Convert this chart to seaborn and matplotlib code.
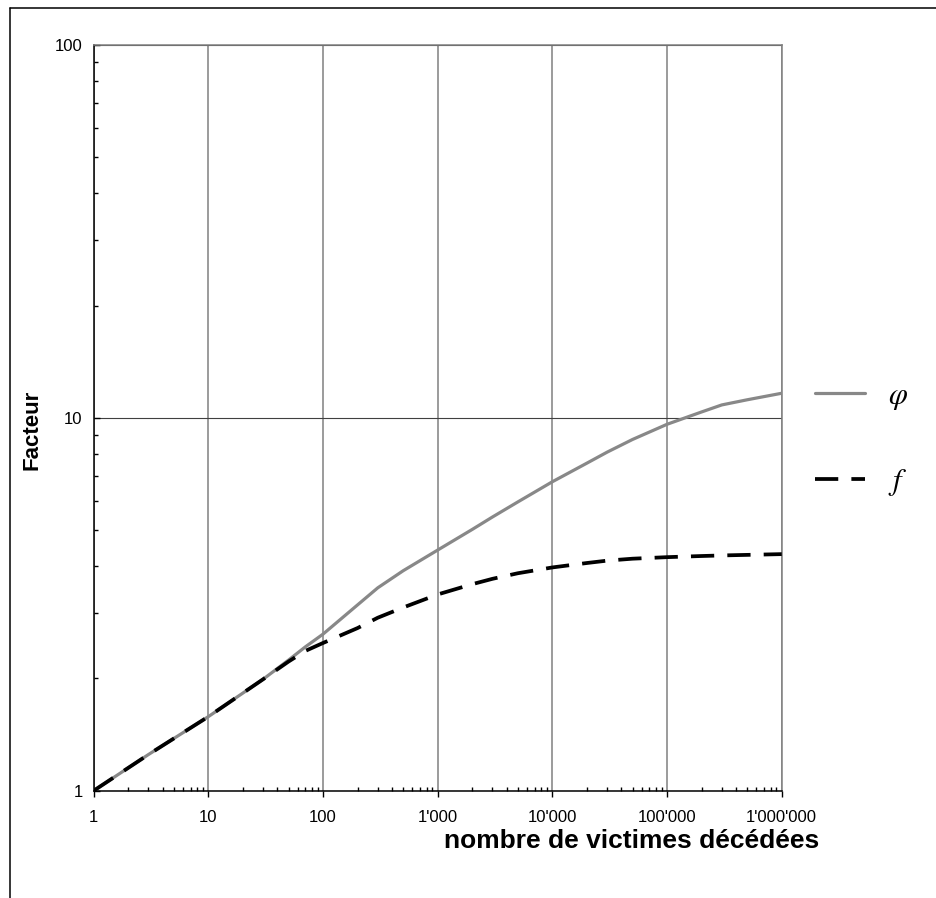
import matplotlib
matplotlib.use("Agg")
import matplotlib.pyplot as plt
from matplotlib.lines import Line2D
from matplotlib.ticker import LogLocator, NullFormatter, FixedLocator, FixedFormatter
import seaborn as sns
import pandas as pd

# ---- data ----
victims = [1, 3, 10, 30, 50, 70, 100, 200, 300, 500, 1000, 2000, 3000, 5000,
           10000, 20000, 30000, 50000, 100000, 200000, 300000, 500000, 1000000]
phi_vals = [1.0, 1.25, 1.58, 1.99, 2.24, 2.43, 2.63, 3.15, 3.50, 3.89, 4.42, 5.02, 5.42, 5.95,
            6.74, 7.56, 8.09, 8.75, 9.61, 10.37, 10.83, 11.18, 11.64]
f_vals = [1.0, 1.25, 1.58, 1.99, 2.22, 2.37, 2.49, 2.73, 2.91, 3.10, 3.36, 3.58, 3.70, 3.83,
          3.97, 4.08, 4.14, 4.19, 4.23, 4.26, 4.275, 4.29, 4.31]

x_ticks = [1, 10, 100, 1000, 10000, 100000, 1000000]
x_tick_labels = ["1", "10", "100", "1'000", "10'000", "100'000", "1'000'000"]
y_ticks = [1, 10, 100]
y_tick_labels = ["1", "10", "100"]

series_labels = [r"$\varphi$", r"$f$"]
x_label = "nombre de victimes décédées"
y_label = "Facteur"

df = pd.DataFrame({"x": victims, "phi": phi_vals, "f": f_vals})

sns.set_theme(style="white")
plt.rcParams["font.family"] = ["Liberation Sans", "DejaVu Sans"]
plt.rcParams["mathtext.fontset"] = "stix"
for k in ["text.color", "axes.labelcolor", "xtick.color", "ytick.color"]:
    plt.rcParams[k] = "black"

fig = plt.figure(figsize=(9.37, 8.98), dpi=100)
ax = fig.add_axes([0.1, 0.1195, 0.7343, 0.8304])

sns.lineplot(data=df, x="x", y="phi", ax=ax, color="#888888", lw=2.3,
             label=series_labels[0], zorder=3)
sns.lineplot(data=df, x="x", y="f", ax=ax, color="black", lw=2.7,
             label=series_labels[1], zorder=4)
ax.lines[1].set_dashes([6.2, 3.5])

ax.set_xscale("log")
ax.set_yscale("log")
ax.set_xlim(x_ticks[0], x_ticks[-1])
ax.set_ylim(y_ticks[0], y_ticks[-1])

ax.xaxis.set_major_locator(FixedLocator(x_ticks))
ax.xaxis.set_major_formatter(FixedFormatter(x_tick_labels))
ax.yaxis.set_major_locator(FixedLocator(y_ticks))
ax.yaxis.set_major_formatter(FixedFormatter(y_tick_labels))
ax.xaxis.set_minor_locator(LogLocator(base=10, subs=range(2, 10), numticks=20))
ax.yaxis.set_minor_locator(LogLocator(base=10, subs=range(2, 10), numticks=20))
ax.xaxis.set_minor_formatter(NullFormatter())
ax.yaxis.set_minor_formatter(NullFormatter())

ax.tick_params(axis="x", which="both", bottom=True, top=False)
ax.tick_params(axis="y", which="both", left=True, right=False)
ax.tick_params(axis="x", which="major", direction="out", length=4, width=1,
               color="black", labelsize=12, pad=10, labelcolor="black")
ax.tick_params(axis="x", which="minor", direction="in", length=3, width=1, color="black")
ax.tick_params(axis="y", which="major", direction="in", length=4, width=1,
               color="black", labelsize=12, pad=8, labelcolor="black")
ax.tick_params(axis="y", which="minor", direction="in", length=3, width=1, color="black")

ax.grid(False)
ax.xaxis.grid(True, which="major", color="#808080", lw=1.1)
ax.yaxis.grid(True, which="major", color="#404040", lw=0.8)

for side in ["left", "bottom"]:
    ax.spines[side].set_color("black")
    ax.spines[side].set_linewidth(1.1)
for side in ["top", "right"]:
    ax.spines[side].set_color("#808080")
    ax.spines[side].set_linewidth(1.1)

ax.set_xlabel(x_label, fontsize=19, fontweight="bold", ha="center", va="center", color="black")
ax.xaxis.set_label_coords(0.782, -0.068)
ax.set_ylabel(y_label, fontsize=16, fontweight="bold", ha="center", va="center", color="black")
ax.yaxis.set_label_coords(-0.0897, 0.484)

leg = ax.legend(loc="center left", bbox_to_anchor=(815 / 937, 1 - 439 / 898),
                bbox_transform=fig.transFigure, frameon=False, fontsize=22,
                handlelength=1.65, handletextpad=0.75, labelspacing=1.8,
                borderpad=0, borderaxespad=0)

# figure frame lines (top and left)
fig.add_artist(Line2D([10.5 / 937, 1.0], [1 - 7.5 / 898, 1 - 7.5 / 898],
                      transform=fig.transFigure, color="black", lw=1.1))
fig.add_artist(Line2D([10.5 / 937, 10.5 / 937], [0.0, 1 - 7.5 / 898],
                      transform=fig.transFigure, color="black", lw=1.1))

fig.savefig("out.png", dpi=100, facecolor="white")
